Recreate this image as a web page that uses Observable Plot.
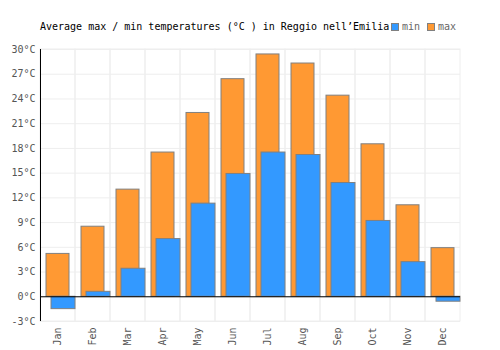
<!DOCTYPE html>
<html><head><meta charset="utf-8">
<script src="https://cdn.jsdelivr.net/npm/d3@7"></script>
<script src="https://cdn.jsdelivr.net/npm/@observablehq/plot@0.6"></script>
<style>
body{margin:0;background:#fff;}
#wrap{position:relative;width:500px;height:350px;font-family:"DejaVu Sans Mono",monospace;}
#title{position:absolute;left:40px;top:21px;font-size:10px;color:#000;white-space:pre;z-index:2;}
#legend{position:absolute;left:391px;top:21px;font-size:10px;color:#666;display:flex;align-items:center;z-index:2;}
.sw{display:inline-block;width:6px;height:6px;border:1px solid #808080;margin-right:3px;}
</style></head>
<body><div id="wrap"><div id="title"></div><div id="legend"></div></div>
<script>
const title = "Average max / min temperatures (°C ) in Reggio nell’Emilia";
const months = ["Jan","Feb","Mar","Apr","May","Jun","Jul","Aug","Sep","Oct","Nov","Dec"];
const maxT = [5.2, 8.5, 13.0, 17.5, 22.3, 26.4, 29.4, 28.3, 24.4, 18.5, 11.1, 5.9];
const minT = [-1.5, 0.6, 3.4, 7.0, 11.3, 14.9, 17.5, 17.2, 13.8, 9.2, 4.2, -0.6];
const yTicks = [-3, 0, 3, 6, 9, 12, 15, 18, 21, 24, 27, 30];
const seriesNames = ["min", "max"];
const seriesColors = ["#3399ff", "#ff9933"];

const data = months.map((m, i) => ({month: m, max: maxT[i], min: minT[i]}));
const yDomain = [yTicks[0], yTicks[yTicks.length - 1]];

document.getElementById("title").textContent = title;
const leg = document.getElementById("legend");
seriesNames.forEach((n, i) => {
  const s = document.createElement("span"); s.className = "sw"; s.style.background = seriesColors[i];
  const t = document.createElement("span"); t.textContent = n; t.style.marginRight = i === 0 ? "7px" : "0";
  leg.appendChild(s); leg.appendChild(t);
});

const chart = Plot.plot({
  width: 500, height: 350,
  marginTop: 49, marginBottom: 29, marginLeft: 40, marginRight: 40,
  style: {fontFamily: "DejaVu Sans Mono, monospace", fontSize: "10px", color: "#555", background: "white"},
  x: {domain: months, padding: 0, label: null, tickSize: 0, tickRotate: -90, tickPadding: 6},
  y: {domain: yDomain, ticks: yTicks, tickFormat: d => d + "°C", tickSize: 0, tickPadding: 5, label: null},
  marks: [
    Plot.gridY(yTicks, {stroke: "#eeeeee", strokeOpacity: 1}),
    Plot.barY(months, {x: d => d, y1: yDomain[0], y2: yDomain[1], fill: "none", stroke: "#eeeeee", strokeOpacity: 1}),
    Plot.barY(data, {x: "month", y: "max", fill: seriesColors[1], stroke: "#808080", strokeWidth: 1, insetLeft: 6, insetRight: 6}),
    Plot.barY(data, {x: "month", y: "min", fill: seriesColors[0], stroke: "#808080", strokeWidth: 1, insetLeft: 11, insetRight: 0}),
    Plot.ruleY([0], {stroke: "#000"}),
    Plot.ruleX([months[0]], {y1: yDomain[0], y2: yDomain[1], stroke: "#000", dx: -17.5})
  ]
});
chart.style.position = "absolute"; chart.style.left = "0"; chart.style.top = "0"; chart.style.zIndex = "1";
document.getElementById("wrap").appendChild(chart);
</script></body></html>
